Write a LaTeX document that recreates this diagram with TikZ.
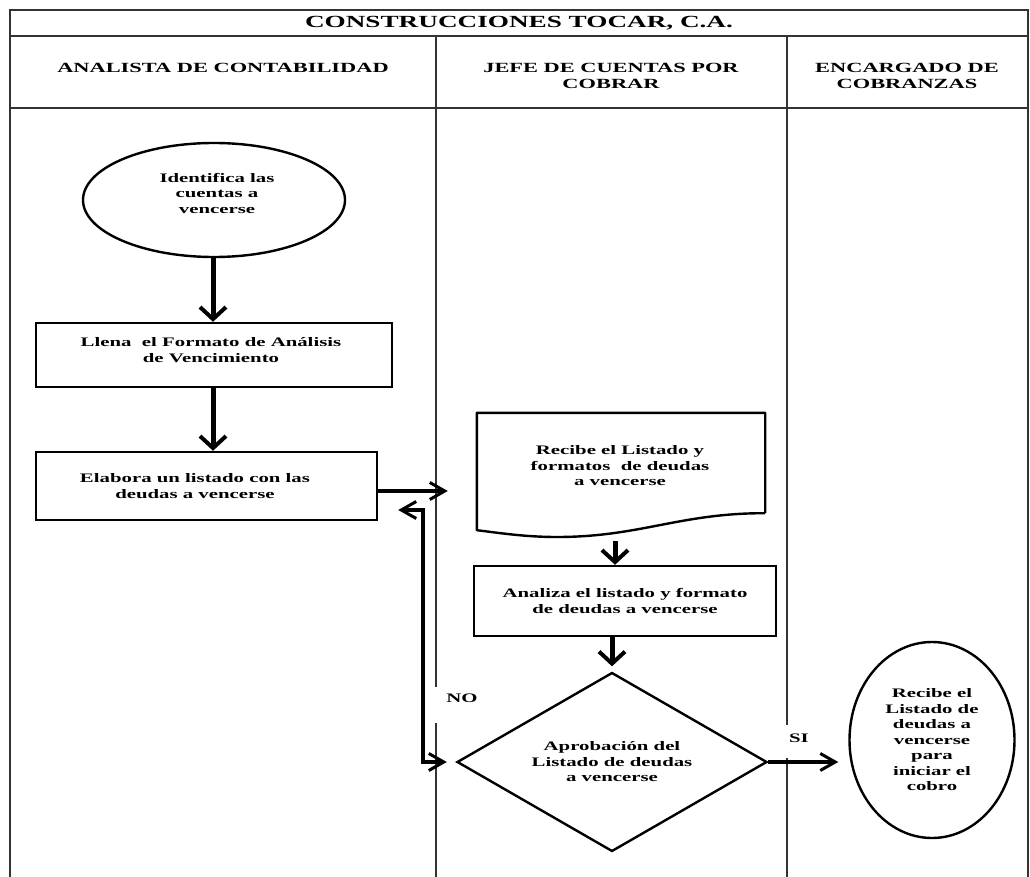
\documentclass[tikz,border=0pt]{standalone}
\usepackage{fontspec}
\setmainfont[FakeStretch=1.6]{Liberation Serif}
\usetikzlibrary{shapes.geometric,arrows.meta}
\begin{document}
\begin{tikzpicture}[x=1pt,y=-1pt,
  frame/.style={line width=1.6pt,draw=black!80},
  txt/.style={font=\bfseries\fontsize{13}{15.5}\selectfont,align=center},
  hdr/.style={font=\bfseries\fontsize{14}{16}\selectfont,align=center},
  shp/.style={draw=black,line width=2.4pt,txt,inner sep=0pt},
  flow/.style={line width=5pt,-{Straight Barb[length=12pt,width=26pt,line width=4pt]}},
  link/.style={line width=3.2pt,-{Straight Barb[length=15pt,width=17pt,line width=3pt]}},
  back/.style={line width=4.5pt,{Straight Barb[length=15pt,width=17pt,line width=3pt]}-{Straight Barb[length=15pt,width=17pt,line width=3pt]}},
  lbl/.style={txt,inner sep=1pt}]
\useasboundingbox (0,0) rectangle (1030,877);
% frame and swimlanes
\draw[frame] (10,877) -- (10,10) -- (1028,10) -- (1028,877);
\draw[frame] (10,36) -- (1028,36);
\draw[frame] (10,108) -- (1028,108);
\draw[frame] (436,36) -- (436,687);
\draw[frame] (436,723) -- (436,877);
\draw[frame] (787,36) -- (787,725);
\draw[frame] (787,758) -- (787,877);
\node[hdr,font=\bfseries\fontsize{17}{19}\selectfont] (title) at (519,23) {CONSTRUCCIONES TOCAR, C.A.};
\node[hdr] (h1) at (223,68) {ANALISTA DE CONTABILIDAD};
\node[hdr] (h2) at (611,76) {JEFE DE CUENTAS POR\\COBRAR};
\node[hdr] (h3) at (907,76) {ENCARGADO DE\\COBRANZAS};
% shapes
\node[shp,ellipse,minimum width=262pt,minimum height=114pt] (e1) at (214,200) {};
\node[txt] (e1t) at (217,193) {Identifica las\\cuentas a\\vencerse};
\node[shp,rectangle,minimum width=356pt,minimum height=64pt] (b1) at (214,355) {};
\node[txt] (b1t) at (211,350) {Llena\ \ el Formato de Análisis\\de Vencimiento};
\node[shp,rectangle,minimum width=341pt,minimum height=68pt] (b2) at (206.5,486) {};
\node[txt] (b2t) at (195,486) {Elabora un listado con las\\deudas a vencerse};
\node[txt,rectangle,minimum width=288pt,minimum height=100pt,inner sep=0pt] (doc) at (621,463) {};
\node[txt] (doct) at (620,466) {Recibe el Listado y\\formatos\ \ de deudas\\a vencerse};
\draw[line width=2.4pt,line join=round] (doc.south east) -- (doc.north east) -- (doc.north west) -- ([yshift=-17pt]doc.south west)
  .. controls (500,533) and (525,537) .. (557,537)
  .. controls (640,537) and (680,513) .. (doc.south east);
\node[shp,rectangle,minimum width=302pt,minimum height=70pt] (ana) at (625,601) {Analiza el listado y\ formato\\de deudas a vencerse};
\node[shp,diamond,shape aspect=1.73,minimum width=310pt,minimum height=179pt] (dia) at (612,762) {Aprobación del\\Listado de deudas\\a vencerse};
\node[shp,ellipse,minimum width=165pt,minimum height=196pt] (e2) at (932,740) {Recibe el\\Listado de\\deudas a\\vencerse\\para\\iniciar el\\cobro};
% connectors
\draw[flow] ([xshift=-1pt]e1.south) -- ([xshift=-1pt]b1.north);
\draw[flow] ([xshift=-1pt]b1.south) -- ([xshift=-1pt]b1.south |- b2.north);
\draw[link,shorten >=29pt] ([yshift=-5pt]b2.east) -- ([yshift=-5pt]b2.east -| doc.west);
\draw[flow] ([xshift=-6pt,yshift=-28pt]doc.south) -- ([xshift=-6pt]doc.south |- ana.north);
\draw[flow,shorten >=5pt] (ana.south -| dia.north) -- (dia.north);
\draw[back,shorten <=20pt,shorten >=9pt] ([yshift=-24pt]b2.east) -- ++(45,0) |- (dia.west);
\draw[link,shorten >=10pt] (dia.east) -- (dia.east -| e2.west);
\node[lbl] (no) at (462,698) {NO};
\node[lbl] (si) at (799,738) {SI};
\end{tikzpicture}
\end{document}
